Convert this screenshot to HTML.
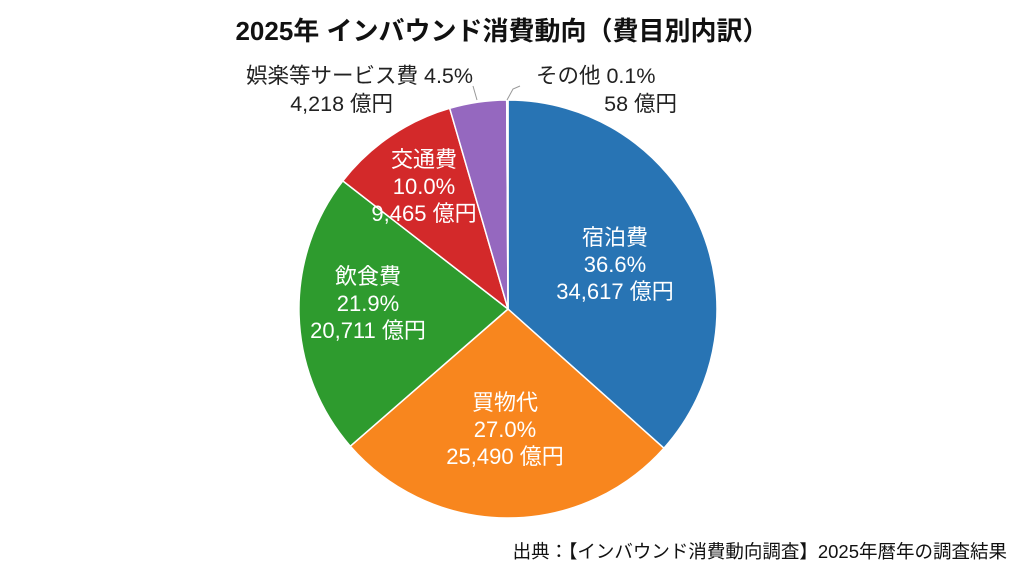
<!DOCTYPE html>
<html><head><meta charset="utf-8"><style>
html,body{margin:0;padding:0;background:#fff;}
svg text{font-family:"Liberation Sans","Noto Sans CJK JP",sans-serif;}
</style></head><body>
<svg width="1024" height="576" viewBox="0 0 1024 576" xmlns="http://www.w3.org/2000/svg">
<rect width="1024" height="576" fill="#fff"/>
<text x="502" y="40" text-anchor="middle" font-size="26" font-weight="bold" fill="#111">2025年 インバウンド消費動向（費目別内訳）</text>
<g stroke="#fff" stroke-width="1.5">
<path d="M508,309 L508,100 A209,209 0 0 1 663.9,448.2 Z" fill="#2874b4"/>
<path d="M508,309 L663.9,448.2 A209,209 0 0 1 350.3,446.2 Z" fill="#f8861e"/>
<path d="M508,309 L350.3,446.2 A209,209 0 0 1 342.8,180.9 Z" fill="#2e9b2e"/>
<path d="M508,309 L342.8,180.9 A209,209 0 0 1 449.7,108.3 Z" fill="#d3292a"/>
<path d="M508,309 L449.7,108.3 A209,209 0 0 1 506.7,100 Z" fill="#9568bf"/>
<path d="M508,309 L506.7,100 A209,209 0 0 1 508,100 Z" fill="#888"/>
</g>
<g stroke="#999" stroke-width="1" fill="none">
<path d="M477,100 L473,86"/>
<path d="M507,100 L513,89 L520,86"/>
</g>
<g font-size="21.5" fill="#222">
<text x="473" y="83" text-anchor="end">娯楽等サービス費 4.5%</text>
<text x="393" y="111" text-anchor="end">4,218 億円</text>
<text x="536" y="83">その他 0.1%</text>
<text x="677" y="111" text-anchor="end">58 億円</text>
</g>
<g font-size="22" fill="#fff" text-anchor="middle">
<text x="615" y="245">宿泊費</text>
<text x="615" y="272">36.6%</text>
<text x="615" y="299">34,617 億円</text>
<text x="505" y="410">買物代</text>
<text x="505" y="437">27.0%</text>
<text x="505" y="464">25,490 億円</text>
<text x="368" y="284">飲食費</text>
<text x="368" y="311">21.9%</text>
<text x="368" y="338">20,711 億円</text>
<text x="424" y="167">交通費</text>
<text x="424" y="194">10.0%</text>
<text x="424" y="221">9,465 億円</text>
</g>
<text x="1007" y="558" text-anchor="end" font-size="18.5" fill="#111">出典：【インバウンド消費動向調査】2025年暦年の調査結果</text>
</svg>
</body></html>
